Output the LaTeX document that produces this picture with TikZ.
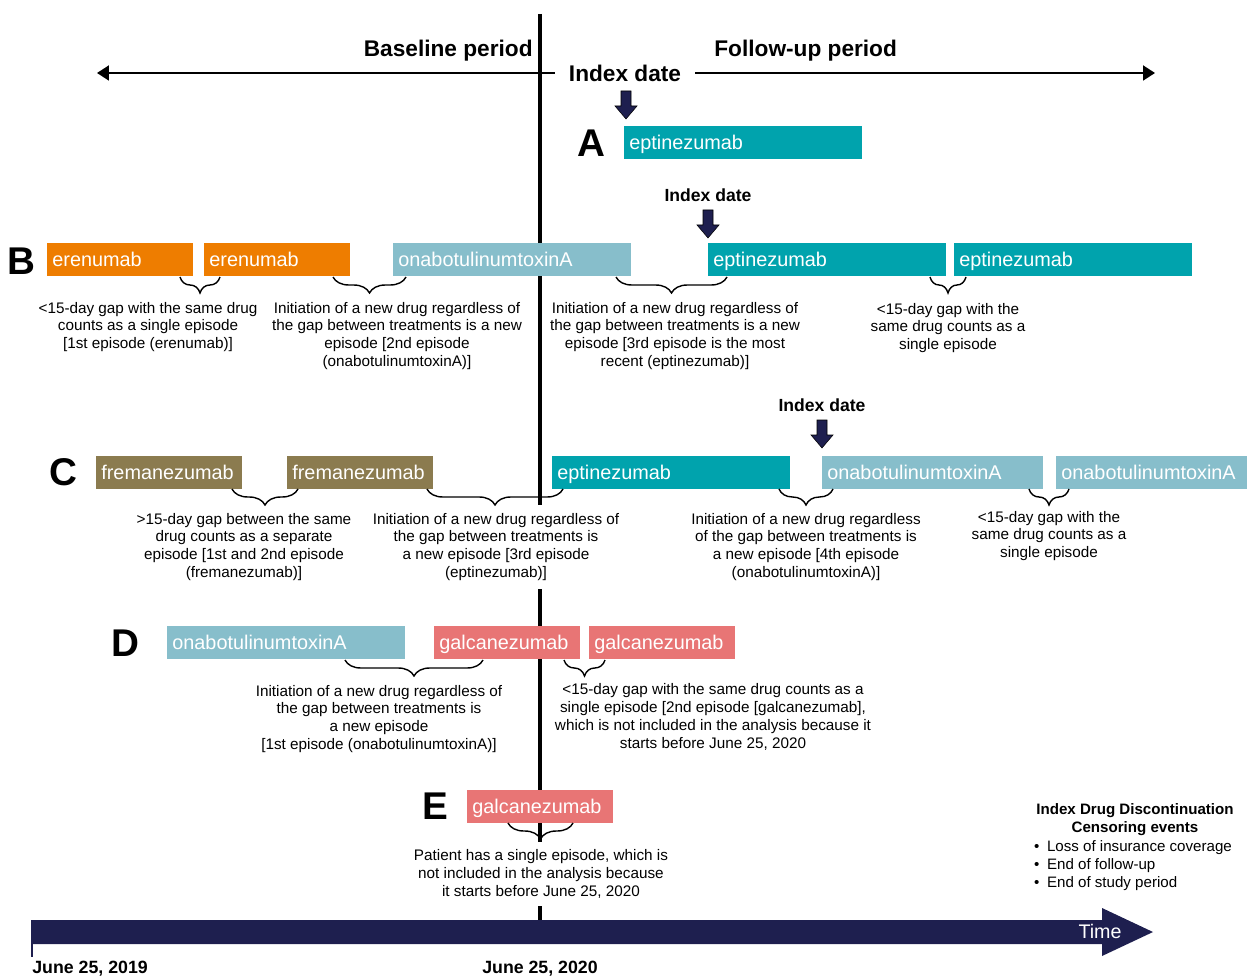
\documentclass[tikz,border=0pt]{standalone}
\usepackage{fontspec}
\setmainfont{Liberation Sans}
\usetikzlibrary{positioning, arrows.meta, decorations.pathreplacing}

\definecolor{eptcol}{RGB}{0,163,173}
\definecolor{erecol}{RGB}{238,125,0}
\definecolor{onacol}{RGB}{135,190,203}
\definecolor{frecol}{RGB}{139,123,79}
\definecolor{galcol}{RGB}{232,117,117}
\definecolor{timecol}{RGB}{30,31,79}

\begin{document}
\begin{tikzpicture}[x=0.02cm, y=-0.02cm,
    drug/.style={fill=#1, text=white, anchor=north west, minimum height=0.66cm,
      inner xsep=0.1cm, inner ysep=0pt, align=left, text height=0.73em, text depth=0pt,
      font=\fontsize{11.3}{13}\selectfont},
    note/.style={fill=white, align=center, inner xsep=1pt, inner ysep=0.16cm,
      font=\fontsize{8.7}{10.2}\selectfont},
    gap/.style={thick, decorate, decoration={brace, mirror, amplitude=0.32cm}},
    letter/.style={font=\fontsize{22}{24}\selectfont\bfseries},
    period/.style={font=\fontsize{12.9}{15}\selectfont\bfseries},
    idx/.style={font=\fontsize{10}{12}\selectfont\bfseries},
    dateline/.style={font=\fontsize{10.1}{12}\selectfont\bfseries},
    axis/.style={line width=1.1pt, -{Triangle[length=0.24cm, width=0.3cm]}},
    downarrow/.pic={\filldraw[fill=timecol, draw=black, line width=0.3pt]
      (-5,0) -- (5,0) -- (5,15) -- (11,15) -- (0,28) -- (-11,15) -- (-5,15) -- cycle;}
  ]
    \useasboundingbox (0,0) rectangle (1247,976);

    % index date line
    \draw[line width=2.6pt] (540,14) -- (540,920);

    % periods
    \node[period, anchor=east, inner xsep=0pt] (base) at (533,51) {Baseline period};
    \node[period, anchor=west, inner xsep=0pt] (follow) at (714,51) {Follow-up period};
    \node[period, inner xsep=0.28cm] (idxA) at (625,73) {Index date};
    \coordinate (leftend) at (97,72);
    \coordinate (rightend) at (1155,72);
    \draw[axis] (idxA.west) -- (idxA.west -| leftend);
    \draw[axis] (idxA.east) -- (idxA.east -| rightend);

    % notes
    \node[note] (noteB1) at (148,327) {<15-day gap with the same drug\\counts as a single episode\\{[}1st episode (erenumab)]};
    \node[note] (noteB2) at (397,336) {Initiation of a new drug regardless of\\the gap between treatments is a new\\episode [2nd episode\\(onabotulinumtoxinA)]};
    \node[note] (noteB3) at (675,336) {Initiation of a new drug regardless of\\the gap between treatments is a new\\episode [3rd episode is the most\\recent (eptinezumab)]};
    \node[note] (noteB4) at (948,328) {<15-day gap with the\\same drug counts as a\\single episode};
    \node[note] (noteC1) at (244,547) {>15-day gap between the same\\drug counts as a separate\\episode [1st and 2nd episode\\(fremanezumab)]};
    \node[note] (noteC2) at (496,547) {Initiation of a new drug regardless of\\the gap between treatments is\\a new episode [3rd episode\\(eptinezumab)]};
    \node[note] (noteC3) at (806,547) {Initiation of a new drug regardless\\of the gap between treatments is\\a new episode [4th episode\\(onabotulinumtoxinA)]};
    \node[note] (noteC4) at (1049,536) {<15-day gap with the\\same drug counts as a\\single episode};
    \node[note] (noteD1) at (379,719) {Initiation of a new drug regardless of\\the gap between treatments is\\a new episode\\{[}1st episode (onabotulinumtoxinA)]};
    \node[note] (noteD2) at (713,717) {<15-day gap with the same drug counts as a\\single episode [2nd episode [galcanezumab],\\which is not included in the analysis because it\\starts before June 25, 2020};
    \node[note] (noteE) at (541,874) {Patient has a single episode, which is\\not included in the analysis because\\it starts before June 25, 2020};

    % A
    \node[letter] (labA) at (591,143) {A};
    \node[drug=eptcol, text width=4.56cm] (eptA) at (624,126) {eptinezumab};
    \pic at (626,91) {downarrow};

    % B
    \node[letter] (labB) at (21,261) {B};
    \node[drug=erecol, text width=2.72cm] (ereB1) at (47,243) {erenumab};
    \node[drug=erecol, text width=2.72cm] (ereB2) at (204,243) {erenumab};
    \node[drug=onacol, text width=4.56cm] (onaB) at (393,243) {onabotulinumtoxinA};
    \node[drug=eptcol, text width=4.56cm] (eptB1) at (708,243) {eptinezumab};
    \node[drug=eptcol, text width=4.56cm] (eptB2) at (954,243) {eptinezumab};
    \node[idx] (idxB) at (708,195) {Index date};
    \pic at (708,210) {downarrow};
    \draw[gap] (180,277) -- (220,277);
    \draw[gap] (333,277) -- (406,277);
    \draw[gap] (616,277) -- (727,277);
    \draw[gap] (930,277) -- (966,277);

    % C
    \node[letter] (labC) at (63,472) {C};
    \node[drug=frecol, text width=2.72cm] (freC1) at (96,456) {fremanezumab};
    \node[drug=frecol, text width=2.72cm] (freC2) at (287,456) {fremanezumab};
    \node[drug=eptcol, text width=4.56cm] (eptC) at (552,456) {eptinezumab};
    \node[drug=onacol, text width=4.22cm] (onaC1) at (822,456) {onabotulinumtoxinA};
    \node[drug=onacol, text width=3.72cm] (onaC2) at (1056,456) {onabotulinumtoxinA};
    \node[idx] (idxC) at (822,405) {Index date};
    \pic at (822,420) {downarrow};
    \draw[gap] (232,489) -- (298,489);
    \draw[gap] (427,489) -- (563,489);
    \draw[gap] (779,489) -- (833,489);
    \draw[gap] (1029,489) -- (1069,489);

    % D
    \node[letter] (labD) at (125,643) {D};
    \node[drug=onacol, text width=4.56cm] (onaD) at (167,626) {onabotulinumtoxinA};
    \node[drug=galcol, text width=2.72cm] (galD1) at (434,626) {galcanezumab};
    \node[drug=galcol, text width=2.72cm] (galD2) at (589,626) {galcanezumab};
    \draw[gap] (345,660) -- (483,660);
    \draw[gap] (564,660) -- (605,660);

    % E
    \node[letter] (labE) at (435,806) {E};
    \node[drug=galcol, text width=2.72cm] (galE) at (467,790) {galcanezumab};
    \draw[gap] (508,823) -- (573,823);

    % censoring
    \node[align=center, font=\fontsize{8.6}{10.2}\selectfont\bfseries] (censor) at (1135,820) {Index Drug Discontinuation\\Censoring events};
    \node[anchor=west, align=left, font=\fontsize{8.6}{10.2}\selectfont] (events) at (1028,866) {\textbullet\enspace Loss of insurance coverage\\\textbullet\enspace End of follow-up\\\textbullet\enspace End of study period};

    % time axis
    \fill[timecol] (31,920) -- (1102,920) -- (1102,908) -- (1153,932) -- (1102,956) -- (1102,944) -- (31,944) -- cycle;
    \draw[timecol, line width=0.8pt] (32,944) -- (32,957);
    \node[text=white, font=\fontsize{11.2}{13}\selectfont] (time) at (1100,931) {Time};
    \node[dateline, anchor=west, inner xsep=0pt] (start) at (32,969) {June 25, 2019};
    \node[dateline] (index) at (540,969) {June 25, 2020};
  \end{tikzpicture}
\end{document}
